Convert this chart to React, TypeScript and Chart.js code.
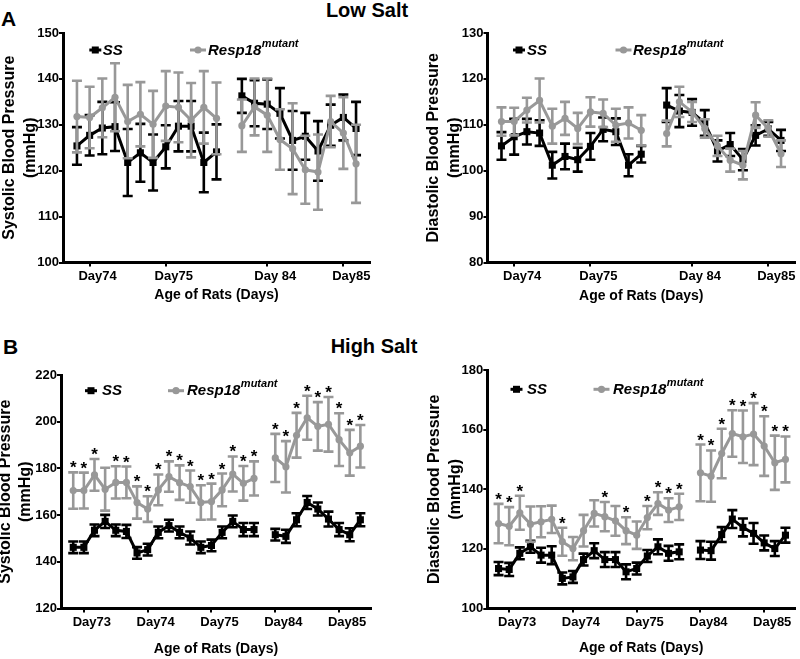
import React, { useEffect, useRef } from 'react';
import { Chart, registerables } from 'chart.js';

Chart.register(...registerables);

const FONT = "'Liberation Sans', Arial, Helvetica, sans-serif";
const BLACK = '#000000';
const GRAY = '#989898';

// ---------- x categories (measurement index) ----------
const lowSaltX = [0, 1, 2, 3, 4, 5, 6, 7, 8, 9, 10, 11, 13, 14, 15, 16, 17, 18, 19, 20, 21, 22];
const lowSaltTickPos = [1, 7, 15, 21];
const lowSaltTickLabels = ['Day74', 'Day75', 'Day 84', 'Day85'];

const highSaltX = [0, 1, 2, 3, 4, 5, 6, 7, 8, 9, 10, 11, 12, 13, 14, 15, 16, 17, 19, 20, 21, 22, 23, 24, 25, 26, 27];
const highSaltTickPos = [1, 7, 13, 19, 25];
const highSaltTickLabels = ['Day73', 'Day74', 'Day75', 'Day84', 'Day85'];

// ---------- Low salt, systolic ----------
const lsSysSS = [125.4, 127.7, 129.3, 129.6, 121.8, 123.9, 121.8, 125.2, 129.7, 129.7, 121.8, 124.1, 136.3, 134.7, 134.5, 132.5, 126.6, 127.5, 124.3, 129.9, 131.6, 129.2];
const lsSysSSErr = [4.1, 4.4, 5.7, 5.3, 7.3, 6.3, 6.1, 4.7, 5.5, 5.5, 6.5, 6.0, 3.7, 5.0, 5.4, 5.5, 6.4, 5.1, 6.5, 4.5, 5.0, 5.8];
const lsSysMut = [131.8, 131.6, 133.7, 136.0, 130.7, 132.3, 130.1, 134.1, 133.8, 131.0, 133.8, 131.4, 129.8, 133.9, 132.1, 126.8, 124.8, 120.2, 119.7, 130.7, 128.2, 121.5];
const lsSysMutErr = [7.8, 6.7, 6.4, 7.4, 8.0, 7.0, 7.3, 7.6, 7.6, 8.1, 7.9, 7.8, 5.7, 6.2, 8.0, 6.6, 9.9, 7.4, 8.2, 5.6, 7.8, 8.5];

// ---------- Low salt, diastolic ----------
const lsDiaSS = [105.4, 107.4, 108.5, 108.2, 101.2, 103.1, 102.4, 105.3, 109.0, 108.5, 101.2, 103.6, 114.3, 113.0, 112.7, 110.4, 104.3, 105.7, 102.4, 107.7, 109.1, 106.6];
const lsDiaSSErr = [3.0, 3.9, 2.8, 2.8, 2.9, 2.8, 2.6, 2.9, 2.6, 2.9, 2.4, 1.8, 3.7, 3.5, 2.9, 2.8, 2.3, 2.5, 2.3, 2.2, 1.5, 2.3];
const lsDiaMut = [110.7, 110.7, 113.2, 115.3, 109.7, 111.4, 109.2, 112.8, 112.5, 109.9, 110.4, 108.8, 108.1, 115.0, 112.8, 109.2, 105.4, 102.3, 101.2, 112.1, 109.2, 103.7];
const lsDiaMutErr = [3.1, 3.0, 2.7, 4.8, 3.8, 3.6, 3.4, 3.2, 3.0, 3.6, 3.4, 3.3, 2.8, 3.3, 2.2, 2.0, 2.2, 2.5, 3.1, 2.8, 1.8, 2.9];

// ---------- High salt, systolic ----------
const hsSysSS = [146.2, 146.2, 153.5, 157.3, 153.5, 153.0, 143.8, 145.2, 152.6, 155.5, 152.6, 150.2, 146.2, 147.0, 152.6, 157.3, 153.8, 153.8, 151.6, 150.9, 158.0, 165.4, 162.6, 158.3, 153.8, 151.6, 158.0];
const hsSysSSErr = [2.5, 2.5, 2.5, 2.8, 2.5, 2.8, 2.5, 2.5, 2.5, 2.5, 2.5, 2.8, 2.5, 2.5, 2.5, 2.5, 2.8, 2.8, 2.5, 2.8, 2.8, 2.8, 2.8, 3.2, 2.8, 2.8, 2.8];
const hsSysMut = [170.5, 170.5, 177.2, 171.1, 174.0, 174.0, 165.4, 162.6, 170.8, 176.5, 173.9, 172.2, 165.4, 165.8, 170.8, 177.6, 173.6, 175.7, 184.5, 180.7, 194.2, 201.7, 198.0, 198.9, 192.3, 186.7, 189.5];
const hsSysMutErr = [7.8, 7.7, 6.8, 9.2, 6.9, 6.8, 6.9, 5.5, 6.6, 6.5, 7.4, 6.9, 7.4, 7.7, 7.0, 7.5, 7.4, 7.3, 10.3, 11.0, 9.6, 9.4, 10.4, 11.7, 11.3, 9.8, 9.1];
const hsSysStars = [1, 1, 1, 0, 1, 1, 1, 1, 1, 1, 1, 1, 1, 1, 1, 1, 1, 1, 1, 1, 1, 1, 1, 1, 1, 1, 1];

// ---------- High salt, diastolic ----------
const hsDiaSS = [113.4, 113.1, 118.5, 120.7, 117.9, 117.9, 110.1, 110.6, 116.4, 119.4, 116.4, 116.4, 112.3, 113.4, 117.6, 120.7, 118.5, 119.0, 119.6, 119.4, 124.8, 130.0, 127.2, 125.2, 122.0, 120.1, 124.6];
const hsDiaSSErr = [2.2, 2.2, 2.0, 2.0, 2.5, 3.0, 2.0, 2.0, 2.0, 2.5, 2.5, 2.5, 2.5, 2.0, 2.0, 2.5, 2.5, 2.5, 3.0, 3.0, 2.5, 3.0, 3.0, 3.5, 2.5, 2.5, 2.5];
const hsDiaMut = [128.5, 127.6, 132.1, 128.3, 129.1, 129.9, 122.4, 120.1, 126.1, 131.9, 130.8, 129.4, 126.1, 124.6, 130.5, 135.2, 133.0, 134.1, 145.5, 144.4, 152.0, 158.7, 157.6, 158.5, 154.5, 148.9, 150.0];
const hsDiaMutErr = [6.6, 6.4, 5.7, 5.9, 5.2, 4.6, 4.7, 3.9, 5.3, 4.4, 4.9, 5.0, 4.5, 4.6, 3.9, 3.8, 4.0, 4.4, 9.5, 8.6, 8.3, 7.8, 8.8, 10.4, 10.0, 9.1, 7.7];
const hsDiaStars = [1, 1, 1, 0, 0, 0, 1, 0, 0, 0, 1, 0, 1, 0, 1, 1, 1, 1, 1, 1, 1, 1, 1, 1, 1, 1, 1];

type Panel = {
  canvas: { left: number; top: number; width: number; height: number };
  area: { left: number; top: number; right: number; bottom: number };
  xs: number[];
  xMin: number;
  xMax: number;
  tickPos: number[];
  tickLabels: string[];
  yMin: number;
  yMax: number;
  yStep: number;
  ss: number[];
  ssErr: number[];
  mut: number[];
  mutErr: number[];
  stars: number[] | null;
  yTitle: string[];
  yTitlePad: number;
  xTitlePad: number;
  legend: { ssX: number; ssTx: number; mutX: number; mutTx: number; y: number };
};

const panels: Panel[] = [
  {
    canvas: { left: 0, top: 20, width: 400, height: 300 },
    area: { left: 63, top: 33, right: 370, bottom: 262.5 },
    xs: lowSaltX, xMin: -1.1, xMax: 23.1, tickPos: lowSaltTickPos, tickLabels: lowSaltTickLabels,
    yMin: 100, yMax: 150, yStep: 10,
    ss: lsSysSS, ssErr: lsSysSSErr, mut: lsSysMut, mutErr: lsSysMutErr, stars: null,
    yTitle: ['Systolic Blood Pressure', '(mmHg)'], yTitlePad: -0.6, xTitlePad: 16.6,
    legend: { ssX: 95.3, ssTx: 102.7, mutX: 198, mutTx: 208, y: 50 },
  },
  {
    canvas: { left: 400, top: 20, width: 400, height: 300 },
    area: { left: 487.5, top: 33, right: 795, bottom: 262.5 },
    xs: lowSaltX, xMin: -1.1, xMax: 23.1, tickPos: lowSaltTickPos, tickLabels: lowSaltTickLabels,
    yMin: 80, yMax: 130, yStep: 10,
    ss: lsDiaSS, ssErr: lsDiaSSErr, mut: lsDiaMut, mutErr: lsDiaMutErr, stars: null,
    yTitle: ['Diastolic Blood Pressure', '(mmHg)'], yTitlePad: 23.1, xTitlePad: 15.1,
    legend: { ssX: 519, ssTx: 527, mutX: 623.5, mutTx: 633, y: 50 },
  },
  {
    canvas: { left: 0, top: 360, width: 400, height: 299 },
    area: { left: 61, top: 375, right: 371, bottom: 608.5 },
    xs: highSaltX, xMin: -1.15, xMax: 28, tickPos: highSaltTickPos, tickLabels: highSaltTickLabels,
    yMin: 120, yMax: 220, yStep: 20,
    ss: hsSysSS, ssErr: hsSysSSErr, mut: hsSysMut, mutErr: hsSysMutErr, stars: hsSysStars,
    yTitle: ['Systolic Blood Pressure', '(mmHg)'], yTitlePad: -5.2, xTitlePad: 1.6,
    legend: { ssX: 91, ssTx: 102, mutX: 176, mutTx: 187, y: 390.7 },
  },
  {
    canvas: { left: 400, top: 355, width: 400, height: 304 },
    area: { left: 487.3, top: 370, right: 796.7, bottom: 608.5 },
    xs: highSaltX, xMin: -1.06, xMax: 27.9, tickPos: highSaltTickPos, tickLabels: highSaltTickLabels,
    yMin: 100, yMax: 180, yStep: 20,
    ss: hsDiaSS, ssErr: hsDiaSSErr, mut: hsDiaMut, mutErr: hsDiaMutErr, stars: hsDiaStars,
    yTitle: ['Diastolic Blood Pressure', '(mmHg)'], yTitlePad: 24.1, xTitlePad: 2.6,
    legend: { ssX: 516.5, ssTx: 527, mutX: 601.5, mutTx: 613, y: 389.3 },
  },
];

function toPoints(xs: number[], ys: number[]) {
  const pts: { x: number; y: number | null }[] = [];
  xs.forEach((x, i) => {
    if (i > 0 && x - xs[i - 1] > 1) pts.push({ x: x - 1, y: null });
    pts.push({ x, y: ys[i] });
  });
  return pts;
}

function drawErrBars(ctx: CanvasRenderingContext2D, xScale: any, yScale: any, xs: number[], vals: number[], errs: number[], color: string) {
  ctx.save();
  ctx.strokeStyle = color;
  ctx.lineWidth = 2.6;
  ctx.lineCap = 'butt';
  xs.forEach((x, i) => {
    const px = xScale.getPixelForValue(x);
    const yt = yScale.getPixelForValue(vals[i] + errs[i]);
    const yb = yScale.getPixelForValue(vals[i] - errs[i]);
    ctx.beginPath();
    ctx.moveTo(px, yt);
    ctx.lineTo(px, yb);
    ctx.moveTo(px - 5, yt);
    ctx.lineTo(px + 5, yt);
    ctx.moveTo(px - 5, yb);
    ctx.lineTo(px + 5, yb);
    ctx.stroke();
  });
  ctx.restore();
}

function makeChart(canvas: HTMLCanvasElement, cfg: Panel) {
  const c = cfg.canvas;
  const a = cfg.area;
  const overlay = {
    id: 'overlay',
    beforeDatasetDraw(chart: any, args: any) {
      const ctx = chart.ctx;
      const xS = chart.scales.x;
      const yS = chart.scales.y;
      if (args.index === 0) drawErrBars(ctx, xS, yS, cfg.xs, cfg.ss, cfg.ssErr, BLACK);
      if (args.index === 1) drawErrBars(ctx, xS, yS, cfg.xs, cfg.mut, cfg.mutErr, GRAY);
    },
    afterDatasetsDraw(chart: any) {
      const ctx = chart.ctx;
      const xS = chart.scales.x;
      const yS = chart.scales.y;
      if (cfg.stars) {
        ctx.save();
        ctx.fillStyle = BLACK;
        ctx.font = `bold 17px ${FONT}`;
        ctx.textAlign = 'center';
        ctx.textBaseline = 'alphabetic';
        cfg.stars.forEach((s, i) => {
          if (!s) return;
          const px = xS.getPixelForValue(cfg.xs[i]);
          const py = yS.getPixelForValue(cfg.mut[i] + cfg.mutErr[i]);
          ctx.fillText('*', px, py + 1);
        });
        ctx.restore();
      }
    },
    afterDraw(chart: any) {
      const ctx = chart.ctx;
      const L = cfg.legend;
      const y = L.y - c.top;
      ctx.save();
      // SS
      const sx = L.ssX - c.left;
      ctx.strokeStyle = BLACK;
      ctx.lineWidth = 3;
      ctx.beginPath();
      ctx.moveTo(sx - 6, y);
      ctx.lineTo(sx + 6, y);
      ctx.stroke();
      ctx.fillStyle = BLACK;
      ctx.fillRect(sx - 3.5, y - 3.5, 7, 7);
      ctx.font = `italic bold 15px ${FONT}`;
      ctx.textAlign = 'left';
      ctx.textBaseline = 'middle';
      ctx.fillText('SS', L.ssTx - c.left, y + 0.5);
      // Resp18 mutant
      const mx = L.mutX - c.left;
      ctx.strokeStyle = GRAY;
      ctx.beginPath();
      ctx.moveTo(mx - 8, y);
      ctx.lineTo(mx + 8, y);
      ctx.stroke();
      ctx.fillStyle = GRAY;
      ctx.beginPath();
      ctx.arc(mx, y, 3.6, 0, Math.PI * 2);
      ctx.fill();
      ctx.fillStyle = BLACK;
      const tx = L.mutTx - c.left;
      ctx.fillText('Resp18', tx, y + 0.5);
      const w = ctx.measureText('Resp18').width;
      ctx.font = `italic bold 11px ${FONT}`;
      ctx.fillText('mutant', tx + w + 0.5, y - 6.5);
      ctx.restore();
    },
  };

  return new Chart(canvas, {
    type: 'line',
    data: {
      datasets: [
        {
          label: 'SS',
          data: toPoints(cfg.xs, cfg.ss) as any,
          borderColor: BLACK,
          backgroundColor: BLACK,
          borderWidth: 3,
          pointStyle: 'rect',
          pointRadius: 5,
          pointBorderWidth: 0,
          tension: 0,
          order: 2,
          clip: false as any,
        },
        {
          label: 'Resp18 mutant',
          data: toPoints(cfg.xs, cfg.mut) as any,
          borderColor: GRAY,
          backgroundColor: GRAY,
          borderWidth: 3,
          pointStyle: 'circle',
          pointRadius: 3.6,
          pointBorderWidth: 0,
          tension: 0,
          order: 1,
          clip: false as any,
        },
      ],
    },
    options: {
      responsive: false,
      animation: false,
      devicePixelRatio: 1,
      events: [],
      layout: {
        padding: { left: 0, top: a.top - c.top, right: c.left + c.width - a.right, bottom: 0 },
      },
      plugins: {
        legend: { display: false },
        tooltip: { enabled: false },
        title: { display: false },
      },
      scales: {
        x: {
          type: 'linear',
          min: cfg.xMin,
          max: cfg.xMax,
          afterBuildTicks: (s: any) => {
            s.ticks = cfg.tickPos.map((v) => ({ value: v }));
          },
          afterFit: (s: any) => {
            s.height = c.top + c.height - a.bottom;
          },
          ticks: {
            autoSkip: false,
            maxRotation: 0,
            minRotation: 0,
            padding: 2,
            labelOffset: 8,
            color: BLACK,
            font: { family: FONT, size: 13, weight: 'bold' },
            callback: (_v: any, i: number) => cfg.tickLabels[i],
          },
          grid: { drawOnChartArea: false, drawTicks: true, tickLength: 4, color: BLACK, lineWidth: 2 },
          border: { display: true, color: BLACK, width: 3 },
          title: {
            display: true,
            text: 'Age of Rats (Days)',
            color: BLACK,
            font: { family: FONT, size: 14, weight: 'bold', lineHeight: 1.2 },
            padding: { top: 0, bottom: cfg.xTitlePad },
          },
        },
        y: {
          type: 'linear',
          min: cfg.yMin,
          max: cfg.yMax,
          afterFit: (s: any) => {
            s.width = a.left - c.left;
          },
          ticks: {
            stepSize: cfg.yStep,
            padding: 0,
            color: BLACK,
            font: { family: FONT, size: 13, weight: 'bold' },
          },
          grid: { drawOnChartArea: false, drawTicks: true, tickLength: 4, color: BLACK, lineWidth: 2 },
          border: { display: true, color: BLACK, width: 3 },
          title: {
            display: true,
            text: cfg.yTitle,
            color: BLACK,
            font: { family: FONT, size: 16, weight: 'bold', lineHeight: 1.3 },
            padding: { top: cfg.yTitlePad, bottom: 0 },
          },
        },
      },
    } as any,
    plugins: [overlay as any],
  });
}

function PanelChart({ cfg }: { cfg: Panel }) {
  const ref = useRef<HTMLCanvasElement>(null);
  useEffect(() => {
    if (!ref.current) return;
    const chart = makeChart(ref.current, cfg);
    return () => chart.destroy();
  }, [cfg]);
  const c = cfg.canvas;
  return (
    <canvas
      ref={ref}
      width={c.width}
      height={c.height}
      style={{ position: 'absolute', left: c.left, top: c.top, width: c.width, height: c.height }}
    />
  );
}

export default function App() {
  const label: React.CSSProperties = { position: 'absolute', fontWeight: 'bold', color: '#000', whiteSpace: 'nowrap' };
  return (
    <div style={{ position: 'absolute', left: 0, top: 0, width: 800, height: 659, background: '#fff', fontFamily: FONT, overflow: 'hidden' }}>
      <div style={{ ...label, left: 1, top: 8, fontSize: 21, lineHeight: '21px' }}>A</div>
      <div style={{ ...label, left: 267, width: 200, top: 0, textAlign: 'center', fontSize: 20, lineHeight: '20px' }}>Low Salt</div>
      <div style={{ ...label, left: 3, top: 335.5, fontSize: 21, lineHeight: '21px' }}>B</div>
      <div style={{ ...label, left: 274, width: 200, top: 336, textAlign: 'center', fontSize: 20, lineHeight: '20px' }}>High Salt</div>
      {panels.map((p, i) => (
        <PanelChart key={i} cfg={p} />
      ))}
    </div>
  );
}
